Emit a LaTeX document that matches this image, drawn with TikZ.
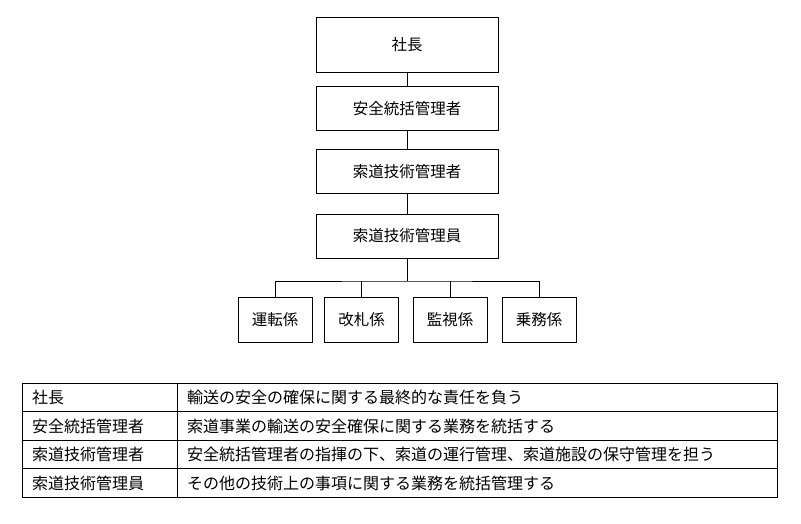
\documentclass[tikz,border=0pt]{standalone}
\usepackage{fontspec}
\setmainfont{Noto Sans CJK JP}
\begin{document}
\begin{tikzpicture}[x=1pt,y=-1pt,
  box/.style={draw,thick,minimum height=44pt,font=\fontsize{15.5}{17}\selectfont,inner sep=0pt},
  wide/.style={box,minimum width=182pt},
  small/.style={box,minimum width=74pt,minimum height=45pt},
  cell/.style={anchor=west,font=\fontsize{16}{18}\selectfont,inner sep=0pt}]
\useasboundingbox (0,0) rectangle (801,524);
\node[wide,minimum height=55pt] (a) at (407,45) {社長};
\node[wide] (b) at (407,108.5) {安全統括管理者};
\node[wide] (c) at (407,171.5) {索道技術管理者};
\node[wide] (d) at (407,236) {索道技術管理員};
\node[small] (e1) at (275,319.5) {運転係};
\node[small] (e2) at (361.5,319.5) {改札係};
\node[small] (e3) at (450,319.5) {監視係};
\node[small] (e4) at (539,319.5) {乗務係};
\draw[thick] (a) -- (b); \draw[thick] (b) -- (c); \draw[thick] (c) -- (d);
\coordinate (j) at (407,281);
\draw[thick] (d) -- (j);
\draw[thick] (e1.north) |- (j) -| (e4.north);
\draw[thick] (e2.north) -- (e2.north |- j);
\draw[thick] (e3.north) -- (e3.north |- j);
% table
\draw[thick] (22,383) rectangle (777,497);
\foreach \y in {411.5,440,468.5} \draw[thick] (22,\y) -- (777,\y);
\draw[thick] (177,383) -- (177,497);
\node[cell] (t1) at (32,397) {社長};
\node[cell] (u1) at (187,397) {輸送の安全の確保に関する最終的な責任を負う};
\node[cell] (t2) at (32,426) {安全統括管理者};
\node[cell] (u2) at (187,426) {索道事業の輸送の安全確保に関する業務を統括する};
\node[cell] (t3) at (32,454) {索道技術管理者};
\node[cell] (u3) at (187,454) {安全統括管理者の指揮の下、索道の運行管理、索道施設の保守管理を担う};
\node[cell] (t4) at (32,483) {索道技術管理員};
\node[cell] (u4) at (187,483) {その他の技術上の事項に関する業務を統括管理する};
\end{tikzpicture}
\end{document}
